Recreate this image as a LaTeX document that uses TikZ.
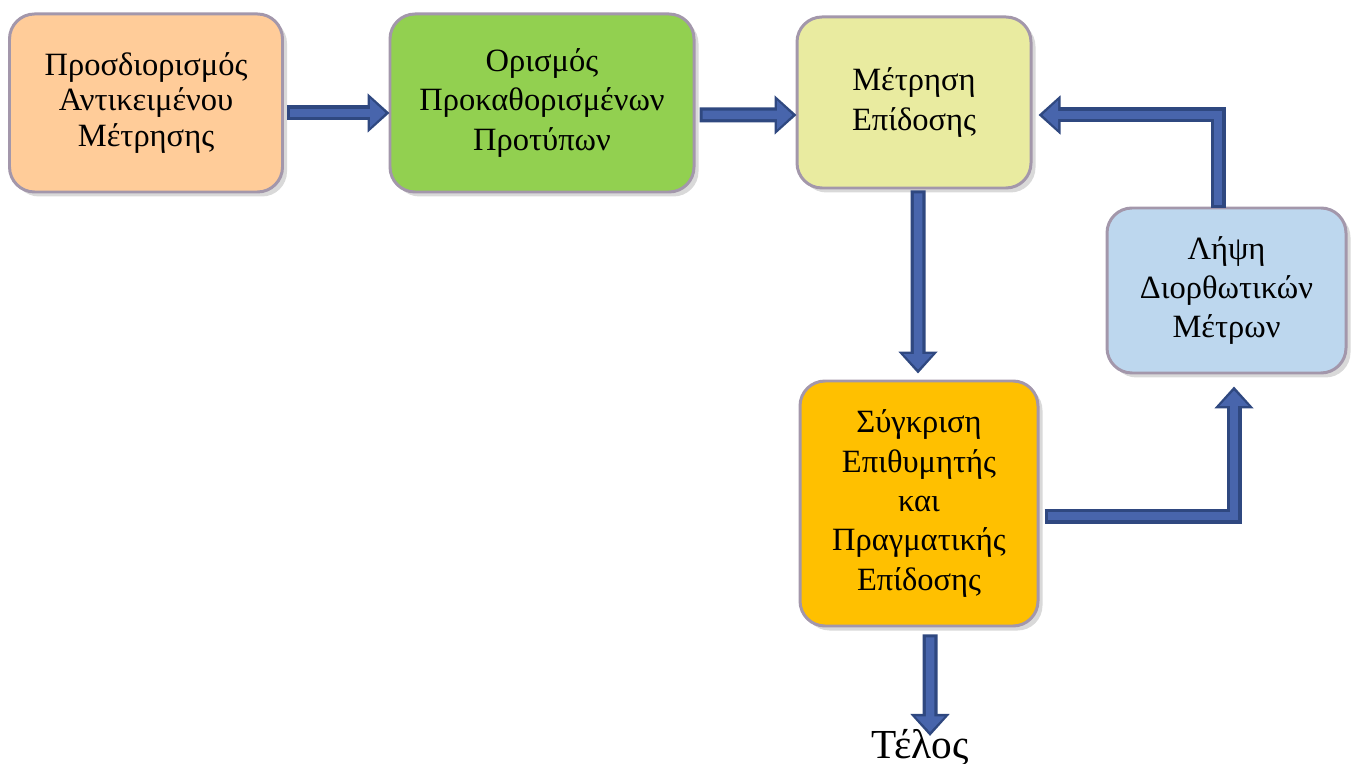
\documentclass[tikz,border=0pt]{standalone}
\usepackage{fontspec}
\setmainfont{Liberation Serif}
\usetikzlibrary{arrows.meta,positioning,shadows}
\definecolor{boxorange}{RGB}{255,204,153}
\definecolor{boxgreen}{RGB}{146,208,80}
\definecolor{boxyellow}{RGB}{233,235,160}
\definecolor{boxblue}{RGB}{189,215,238}
\definecolor{boxgold}{RGB}{255,192,0}
\definecolor{boxedge}{RGB}{163,151,171}
\definecolor{arrowblue}{RGB}{72,101,172}
\definecolor{arrowdark}{RGB}{47,72,128}

\begin{document}
\begin{tikzpicture}[
    stagebox/.style={draw=boxedge, line width=1.7pt, rounded corners=0.5cm,
      align=center, font=\fontsize{18.5}{22.4}\selectfont,
      drop shadow={shadow xshift=0.09cm, shadow yshift=-0.09cm, opacity=0.3}},
    arrowedge/.style={draw=arrowdark, line width=0.30cm,
      -{Triangle[length=0.44cm,width=0.76cm]}},
    arrowcore/.style={draw=arrowblue, line width=0.17cm,
      shorten <=0.06cm, shorten >=0.08cm,
      -{Triangle[length=0.31cm,width=0.56cm]}}
  ]
  \useasboundingbox (0,0) rectangle (27.14,-15.28);

  % stages
  \node[stagebox, fill=boxorange, minimum width=5.46cm, minimum height=3.56cm,
    font=\fontsize{18.5}{20.2}\selectfont]
    (object) at (2.92,-2.06) {Προσδιορισμός\\Αντικειμένου\\Μέτρησης};
  \node[stagebox, fill=boxgreen, minimum width=6.08cm, minimum height=3.56cm]
    (standards) at (10.84,-2.06) {Ορισμός\\Προκαθορισμένων\\Προτύπων};
  \node[stagebox, fill=boxyellow, minimum width=4.68cm, minimum height=3.42cm]
    (measure) at (18.28,-2.05) {Μέτρηση\\Επίδοσης};
  \node[stagebox, fill=boxblue, minimum width=4.78cm, minimum height=3.30cm]
    (correct) at (24.53,-5.81) {Λήψη\\Διορθωτικών\\Μέτρων};
  \node[stagebox, fill=boxgold, minimum width=4.76cm, minimum height=4.90cm]
    (compare) at (18.38,-10.07) {Σύγκριση\\Επιθυμητής\\και\\Πραγματικής\\Επίδοσης};
  \node[font=\fontsize{23.5}{26}\selectfont, inner sep=0pt]
    (finish) at (18.4,-14.95) {Τέλος};

  % block arrows: dark outline first, then blue core
  \foreach \st in {arrowedge,arrowcore} {
    \draw[\st] ([xshift=0.06cm,yshift=-0.2cm]object.east)
      -- ([xshift=0.02cm,yshift=-0.2cm]standards.west);
    \draw[\st] ([xshift=0.08cm,yshift=-0.24cm]standards.east)
      -- ([xshift=0.02cm,yshift=-0.25cm]measure.west);
    \draw[\st] ([xshift=0.08cm,yshift=-0.02cm]measure.south)
      -- ([xshift=-0.02cm,yshift=0.12cm]compare.north);
    \draw[\st] ([xshift=-0.17cm,yshift=-0.02cm]correct.north)
      |- ([xshift=0.12cm,yshift=-0.25cm]measure.east);
    \draw[\st] ([xshift=0.1cm,yshift=-0.25cm]compare.east)
      -| ([xshift=0.15cm,yshift=-0.24cm]correct.south);
    \draw[\st] ([xshift=0.22cm,yshift=-0.14cm]compare.south)
      -- ([xshift=0.2cm,yshift=-0.14cm]finish.north);
  }
\end{tikzpicture}
\end{document}
